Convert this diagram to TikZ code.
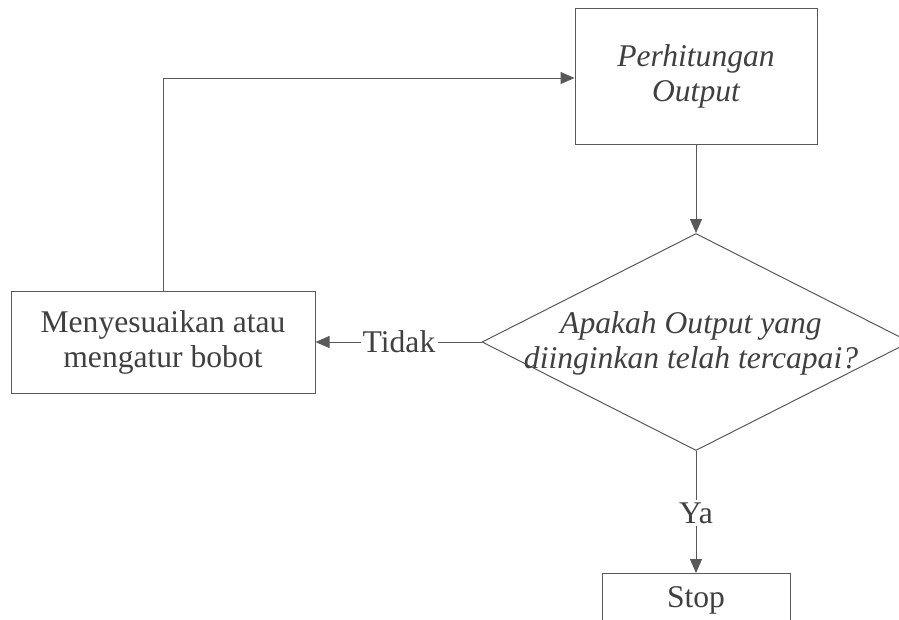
\documentclass[tikz,border=0pt]{standalone}
\usepackage{fontspec}
\setmainfont{Liberation Serif}
\usetikzlibrary{shapes.geometric,arrows.meta}
\begin{document}
\begin{tikzpicture}[x=1pt,y=1pt,
  line/.style={draw=black!65,line width=1pt},
  arr/.style={line,-{Triangle[length=14pt,width=12pt]}},
  txt/.style={text=black!75,font=\fontsize{31.6}{35}\selectfont,align=center},
  procbox/.style={line,txt,rectangle,inner sep=0pt},
  decbox/.style={line,diamond,inner sep=0pt,minimum width=428pt,minimum height=217pt},
  lbl/.style={txt,inner sep=2pt}]
\useasboundingbox (0,0) rectangle (899,-619);
\clip (0,0) rectangle (899,-619);
\fill[white] (0,0) rectangle (899,-619);

% process, decision and end boxes
\node[procbox,minimum width=242pt,minimum height=136pt] (calc) at (696,-76) {\itshape Perhitungan\\\itshape Output};
\node[decbox] (dec) at (696,-342) {};
\node[txt] (dectext) at (691,-343) {\itshape Apakah Output yang\\\itshape diinginkan telah tercapai?};
\node[procbox,minimum width=304pt,minimum height=102pt] (adj) at (163,-342) {Menyesuaikan atau\\mengatur bobot};
\node[procbox,minimum width=188pt,minimum height=54pt,anchor=north] (stop) at (696,-573) {Stop};

% branch labels
\node[lbl] (no) at (399,-342) {Tidak};
\node[lbl] (yes) at (696,-513) {Ya};
\coordinate (bend) at (163,-78);

% connectors
\draw[arr] (calc.south) -- (dec.north);
\draw[line] (dec.west) -- (no.east);
\draw[arr] (no.west) -- (adj.east);
\draw[line] (dec.south) -- (yes.north);
\draw[arr] (yes.south) -- (stop.north);
\draw[arr] (adj.north) -- (bend) -- (calc.west |- bend);
\end{tikzpicture}
\end{document}
